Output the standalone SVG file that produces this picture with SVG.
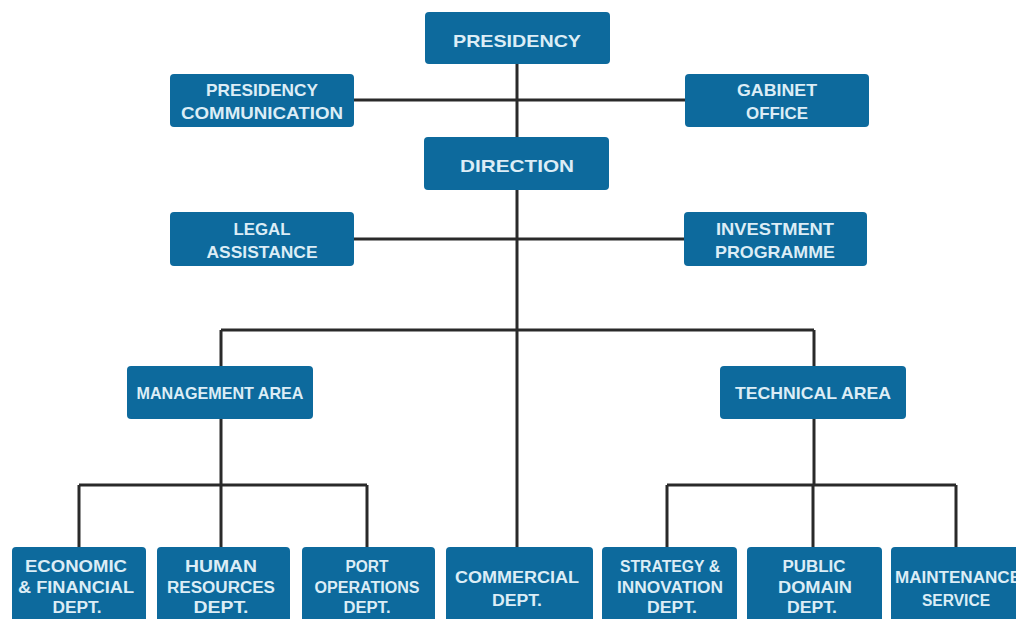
<svg xmlns="http://www.w3.org/2000/svg" width="1016" height="619" viewBox="0 0 1016 619">
<style>
.b{fill:#0d6a9d;}
.t{font-family:"Liberation Sans",Arial,sans-serif;font-weight:bold;font-size:17px;fill:#dcedf6;text-anchor:middle;}
.s{font-size:16px;}
.c{stroke:#2a2a2a;stroke-width:3;fill:none;}
</style>
<rect width="1016" height="619" fill="#ffffff"/>
<g id="connectors" class="c">
<path d="M517 64V547"/>
<path d="M354 100H685"/>
<path d="M354 239H685"/>
<path d="M221 330H814"/>
<path d="M221 330V366M814 330V366"/>
<path d="M221 419V485M814 419V485"/>
<path d="M79 485H367M79 485V547M221 485V547M367 485V547"/>
<path d="M667 485H956M667 485V547M813 485V547M956 485V547"/>
</g>
<g id="presidency"><rect class="b" x="425" y="12" width="185" height="52" rx="4"/><text class="t" x="517" y="47" textLength="128" lengthAdjust="spacingAndGlyphs">PRESIDENCY</text></g>
<g id="presidency-communication"><rect class="b" x="170" y="74" width="184" height="53" rx="4"/><text class="t" x="262" y="96" textLength="112" lengthAdjust="spacingAndGlyphs">PRESIDENCY</text><text class="t" x="262" y="119" textLength="162" lengthAdjust="spacingAndGlyphs">COMMUNICATION</text></g>
<g id="gabinet-office"><rect class="b" x="685" y="74" width="184" height="53" rx="4"/><text class="t" x="777" y="96" textLength="80" lengthAdjust="spacingAndGlyphs">GABINET</text><text class="t" x="777" y="119" textLength="62" lengthAdjust="spacingAndGlyphs">OFFICE</text></g>
<g id="direction"><rect class="b" x="424" y="137" width="185" height="53" rx="4"/><text class="t" x="517" y="172" textLength="114" lengthAdjust="spacingAndGlyphs">DIRECTION</text></g>
<g id="legal-assistance"><rect class="b" x="170" y="212" width="184" height="54" rx="4"/><text class="t" x="262" y="235" textLength="57" lengthAdjust="spacingAndGlyphs">LEGAL</text><text class="t" x="262" y="258" textLength="111" lengthAdjust="spacingAndGlyphs">ASSISTANCE</text></g>
<g id="investment-programme"><rect class="b" x="684" y="212" width="183" height="54" rx="4"/><text class="t" x="775" y="235" textLength="118" lengthAdjust="spacingAndGlyphs">INVESTMENT</text><text class="t" x="775" y="258" textLength="120" lengthAdjust="spacingAndGlyphs">PROGRAMME</text></g>
<g id="management-area"><rect class="b" x="127" y="366" width="186" height="53" rx="4"/><text class="t" x="220" y="399" textLength="167" lengthAdjust="spacingAndGlyphs">MANAGEMENT AREA</text></g>
<g id="technical-area"><rect class="b" x="720" y="366" width="186" height="53" rx="4"/><text class="t" x="813" y="399" textLength="156" lengthAdjust="spacingAndGlyphs">TECHNICAL AREA</text></g>
<g id="economic-financial"><rect class="b" x="12" y="547" width="134" height="80" rx="4"/><text class="t s" x="76" y="572" textLength="102" lengthAdjust="spacingAndGlyphs">ECONOMIC</text><text class="t s" x="76" y="593" textLength="116" lengthAdjust="spacingAndGlyphs">&amp; FINANCIAL</text><text class="t s" x="77" y="613" textLength="49" lengthAdjust="spacingAndGlyphs">DEPT.</text></g>
<g id="human-resources"><rect class="b" x="157" y="547" width="133" height="80" rx="4"/><text class="t s" x="221" y="572" textLength="72" lengthAdjust="spacingAndGlyphs">HUMAN</text><text class="t s" x="221" y="593" textLength="108" lengthAdjust="spacingAndGlyphs">RESOURCES</text><text class="t s" x="221" y="613" textLength="55" lengthAdjust="spacingAndGlyphs">DEPT.</text></g>
<g id="port-operations"><rect class="b" x="302" y="547" width="133" height="80" rx="4"/><text class="t s" x="367" y="572" textLength="43" lengthAdjust="spacingAndGlyphs">PORT</text><text class="t s" x="367" y="593" textLength="105" lengthAdjust="spacingAndGlyphs">OPERATIONS</text><text class="t s" x="367" y="613" textLength="47" lengthAdjust="spacingAndGlyphs">DEPT.</text></g>
<g id="commercial"><rect class="b" x="446" y="547" width="147" height="80" rx="4"/><text class="t s" x="517" y="583" textLength="124" lengthAdjust="spacingAndGlyphs">COMMERCIAL</text><text class="t s" x="517" y="606" textLength="50" lengthAdjust="spacingAndGlyphs">DEPT.</text></g>
<g id="strategy-innovation"><rect class="b" x="602" y="547" width="135" height="80" rx="4"/><text class="t s" x="670" y="572" textLength="100" lengthAdjust="spacingAndGlyphs">STRATEGY &amp;</text><text class="t s" x="670" y="593" textLength="106" lengthAdjust="spacingAndGlyphs">INNOVATION</text><text class="t s" x="672" y="613" textLength="50" lengthAdjust="spacingAndGlyphs">DEPT.</text></g>
<g id="public-domain"><rect class="b" x="747" y="547" width="135" height="80" rx="4"/><text class="t s" x="814" y="572" textLength="63" lengthAdjust="spacingAndGlyphs">PUBLIC</text><text class="t s" x="815" y="593" textLength="74" lengthAdjust="spacingAndGlyphs">DOMAIN</text><text class="t s" x="812" y="613" textLength="50" lengthAdjust="spacingAndGlyphs">DEPT.</text></g>
<g id="maintenance-service"><rect class="b" x="891" y="547" width="135" height="80" rx="4"/><text class="t s" x="958" y="583" textLength="126" lengthAdjust="spacingAndGlyphs">MAINTENANCE</text><text class="t s" x="956" y="606" textLength="68" lengthAdjust="spacingAndGlyphs">SERVICE</text></g>
</svg>
